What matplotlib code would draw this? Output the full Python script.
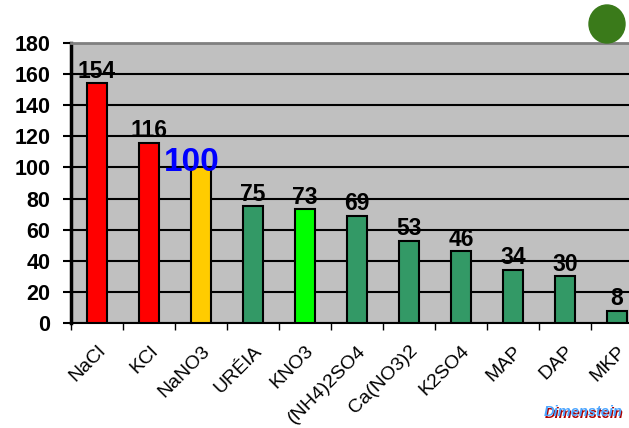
import matplotlib.pyplot as plt
import matplotlib.patches as mpatches
import numpy as np

# dados
produtos = ['NaCl', 'KCl', 'NaNO3', 'URÉIA', 'KNO3', '(NH4)2SO4', 'Ca(NO3)2', 'K2SO4', 'MAP', 'DAP', 'MKP']
indice_salino = [154, 116, 100, 75, 73, 69, 53, 46, 34, 30, 8]
cores = ['#FF0000', '#FF0000', '#FFCC00', '#339966', '#00FF00', '#339966',
         '#339966', '#339966', '#339966', '#339966', '#339966']

plt.rcParams['font.family'] = ['Liberation Sans', 'DejaVu Sans']

fig = plt.figure(figsize=(6.29, 4.28), dpi=100)
ax = fig.add_axes([71 / 629, 105 / 428, 572 / 629, 280 / 428])
ax.set_facecolor('#C0C0C0')

x = np.arange(len(produtos))
ax.bar(x, indice_salino, width=0.38, color=cores, edgecolor='black', linewidth=1.5, zorder=3)

# rótulos das barras
for i, v in enumerate(indice_salino):
    if v == 100:
        ax.text(i - 0.17, v - 7, str(v), ha='center', va='bottom', fontsize=24,
                fontweight='bold', color='#0000FF', zorder=4)
    else:
        ax.text(i, v + 0.5, str(v), ha='center', va='bottom', fontsize=16.5,
                fontweight='bold', color='black', zorder=4)

ax.set_ylim(0, 180)
ax.set_xlim(-0.5, len(produtos) - 0.5)
ax.set_yticks(range(0, 181, 20))
ax.yaxis.grid(True, color='black', linewidth=1.5, zorder=1)
ax.tick_params(axis='y', labelsize=15.5, width=1.5, length=6, pad=9)
for lbl in ax.get_yticklabels():
    lbl.set_fontweight('bold')

ax.set_xticks(x)
ax.set_xticklabels(produtos, rotation=45, ha='right', rotation_mode='anchor', fontsize=14)
ax.set_xticks(np.arange(-0.5, len(produtos), 1), minor=True)
ax.tick_params(axis='x', which='major', length=0, pad=14)
ax.tick_params(axis='x', which='minor', length=5, width=1)

ax.spines['left'].set_linewidth(2.5)
ax.spines['bottom'].set_linewidth(1.5)
ax.spines['top'].set_color('#808080')
ax.spines['top'].set_linewidth(2)
ax.spines['right'].set_visible(False)

# logo simplificado
fig.patches.append(mpatches.Ellipse((607 / 629, 1 - 24 / 428), 36 / 629, 38 / 428,
                                    transform=fig.transFigure, color='#3A7A1A'))

# marca d'água
fig.text(0.992, 0.017, 'Dimenstein', ha='right', va='bottom', fontsize=10.5,
         fontweight='bold', style='italic', color='#AA0000')
fig.text(0.99, 0.02, 'Dimenstein', ha='right', va='bottom', fontsize=10.5,
         fontweight='bold', style='italic', color='#4DA6FF')

fig.savefig('out.png', dpi=100)
